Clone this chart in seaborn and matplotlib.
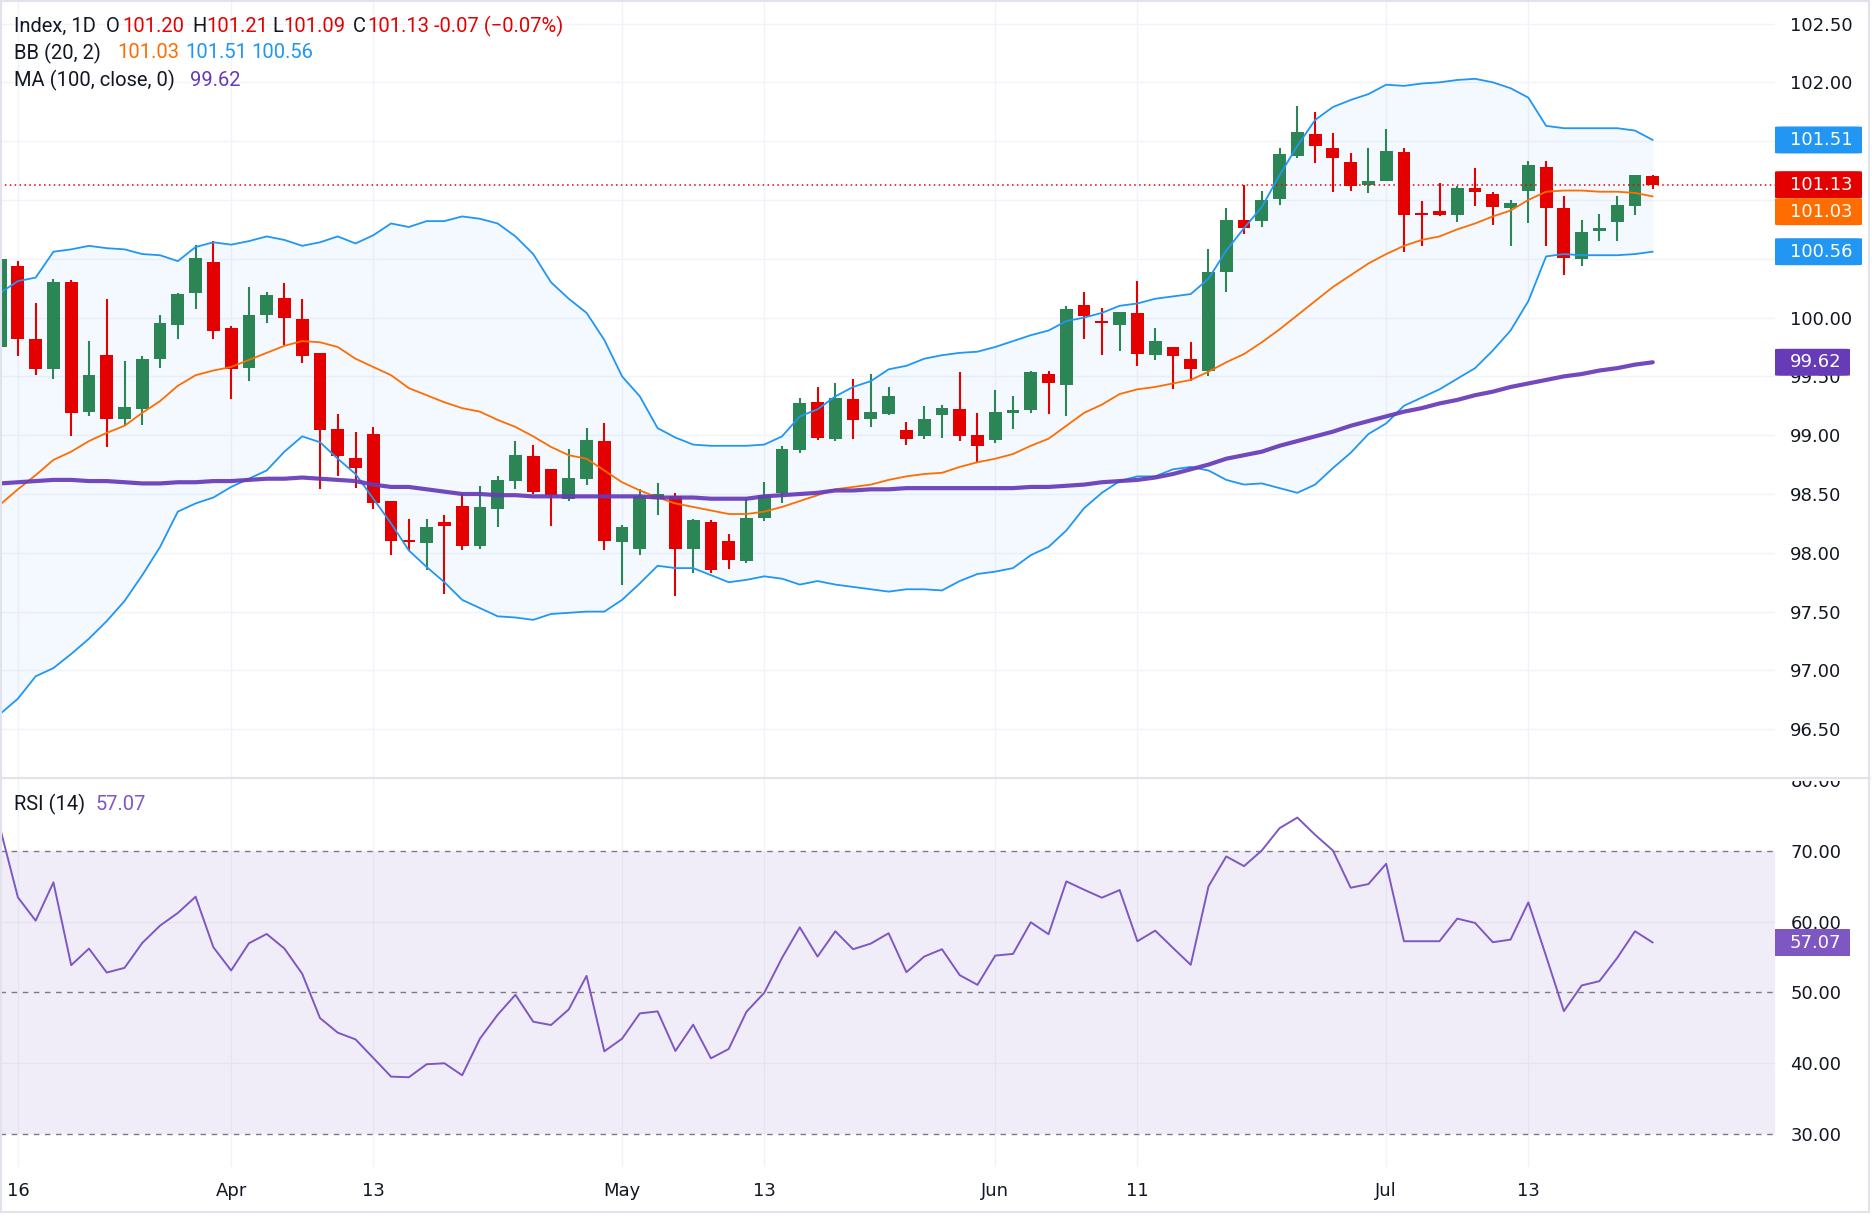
import numpy as np
import pandas as pd
import matplotlib
matplotlib.use("Agg")
import matplotlib.pyplot as plt
import matplotlib.transforms as mtransforms
from matplotlib.patches import Rectangle, FancyBboxPatch
from matplotlib.lines import Line2D
import seaborn as sns

# ---------------- data ----------------
dates = pd.bdate_range("2026-03-13", "2026-07-22")

opens = [99.75, 100.44, 99.82, 99.56, 100.30, 99.20, 99.68, 99.14, 99.22, 99.65,
         99.94, 100.21, 100.47, 99.91, 99.57, 100.02, 100.17, 99.99, 99.70, 99.05,
         98.81, 99.01, 98.44, 98.10, 98.08, 98.26, 98.40, 98.06, 98.37, 98.61,
         98.82, 98.71, 98.46, 98.63, 98.95, 98.09, 98.03, 98.46, 98.48, 98.03,
         98.26, 98.10, 97.93, 98.30, 98.51, 98.87, 99.28, 98.97, 99.31, 99.14,
         99.18, 99.04, 98.99, 99.17, 99.22, 99.00, 98.96, 99.19, 99.21, 99.52,
         99.43, 100.11, 99.97, 99.94, 100.04, 99.68, 99.75, 99.65, 99.55, 100.39,
         100.83, 100.82, 101.01, 101.37, 101.56, 101.44, 101.32, 101.13, 101.16, 101.41,
         100.88, 100.91, 100.87, 101.10, 101.05, 100.93, 101.08, 101.28, 100.93, 100.50,
         100.74, 100.81, 100.95, 101.20]
highs = [100.55, 100.48, 100.12, 100.33, 100.32, 99.80, 100.16, 99.63, 99.67, 100.02,
         100.21, 100.62, 100.65, 99.93, 100.26, 100.22, 100.29, 100.16, 99.70, 99.18,
         99.03, 99.07, 98.44, 98.29, 98.29, 98.32, 98.51, 98.57, 98.65, 98.95,
         98.92, 98.71, 98.88, 99.06, 99.10, 98.24, 98.54, 98.59, 98.51, 98.29,
         98.28, 98.16, 98.46, 98.60, 98.91, 99.32, 99.41, 99.44, 99.48, 99.52,
         99.41, 99.11, 99.25, 99.26, 99.54, 99.19, 99.38, 99.33, 99.55, 99.55,
         100.10, 100.22, 100.08, 100.05, 100.31, 99.91, 99.75, 99.79, 100.58, 100.93,
         101.13, 101.08, 101.44, 101.80, 101.75, 101.57, 101.40, 101.44, 101.60, 101.44,
         100.99, 101.14, 101.12, 101.27, 101.07, 101.00, 101.33, 101.33, 101.03, 100.83,
         100.88, 101.03, 101.21, 101.21]
lows = [99.60, 99.67, 99.51, 99.48, 98.99, 99.16, 98.90, 99.08, 99.09, 99.57,
        99.82, 100.07, 99.82, 99.31, 99.46, 99.95, 99.77, 99.61, 98.54, 98.65,
        98.55, 98.37, 97.98, 98.02, 97.85, 97.65, 98.02, 98.03, 98.22, 98.54,
        98.50, 98.23, 98.44, 98.58, 98.02, 97.73, 97.98, 98.32, 97.63, 97.83,
        97.83, 97.86, 97.91, 98.27, 98.42, 98.85, 98.96, 98.95, 98.97, 99.07,
        99.17, 98.92, 98.97, 98.98, 98.95, 98.76, 98.93, 99.05, 99.19, 99.18,
        99.16, 99.82, 99.68, 99.72, 99.59, 99.64, 99.39, 99.46, 99.50, 100.22,
        100.71, 100.77, 100.96, 101.36, 101.31, 101.07, 101.08, 101.06, 101.16, 100.56,
        100.61, 100.86, 100.81, 100.95, 100.79, 100.61, 100.80, 100.61, 100.36, 100.44,
        100.65, 100.65, 100.87, 101.09]
closes = [100.50, 99.82, 99.56, 100.30, 99.19, 99.51, 99.14, 99.24, 99.65, 99.95,
          100.20, 100.51, 99.89, 99.56, 100.02, 100.19, 100.00, 99.67, 99.04, 98.82,
          98.72, 98.42, 98.10, 98.09, 98.22, 98.23, 98.06, 98.39, 98.62, 98.83,
          98.52, 98.49, 98.64, 98.96, 98.10, 98.22, 98.48, 98.50, 98.03, 98.28,
          97.85, 97.94, 98.30, 98.49, 98.88, 99.27, 98.98, 99.32, 99.13, 99.20,
          99.33, 98.97, 99.14, 99.23, 98.99, 98.91, 99.20, 99.21, 99.54, 99.44,
          100.07, 100.01, 99.95, 100.05, 99.69, 99.80, 99.67, 99.56, 100.39, 100.83,
          100.76, 101.00, 101.39, 101.58, 101.46, 101.36, 101.12, 101.16, 101.42, 100.87,
          100.87, 100.87, 101.10, 101.07, 100.94, 100.97, 101.30, 100.93, 100.51, 100.73,
          100.76, 100.96, 101.21, 101.13]

bb_upper = [100.21, 100.31, 100.34, 100.56, 100.58, 100.61, 100.59, 100.58, 100.54, 100.53,
            100.48, 100.60, 100.64, 100.62, 100.65, 100.69, 100.66, 100.61, 100.64, 100.69,
            100.63, 100.70, 100.80, 100.77, 100.82, 100.82, 100.86, 100.84, 100.80, 100.69,
            100.54, 100.30, 100.16, 100.04, 99.81, 99.50, 99.33, 99.06, 98.98, 98.92,
            98.91, 98.91, 98.91, 98.92, 98.99, 99.16, 99.22, 99.33, 99.41, 99.46,
            99.56, 99.59, 99.65, 99.68, 99.70, 99.71, 99.75, 99.80, 99.85, 99.89,
            99.97, 100.00, 100.04, 100.10, 100.12, 100.16, 100.18, 100.20, 100.33, 100.57,
            100.76, 100.94, 101.21, 101.46, 101.68, 101.79, 101.85, 101.90, 101.98, 101.97,
            101.99, 102.00, 102.02, 102.03, 102.00, 101.95, 101.87, 101.63, 101.61, 101.61,
            101.61, 101.61, 101.59, 101.51]
bb_mid = [98.41, 98.54, 98.66, 98.79, 98.86, 98.95, 99.02, 99.08, 99.19, 99.29,
          99.42, 99.51, 99.55, 99.58, 99.64, 99.70, 99.76, 99.80, 99.79, 99.75,
          99.65, 99.58, 99.51, 99.40, 99.34, 99.28, 99.23, 99.20, 99.13, 99.07,
          98.99, 98.90, 98.83, 98.80, 98.70, 98.60, 98.53, 98.47, 98.42, 98.39,
          98.36, 98.33, 98.33, 98.35, 98.39, 98.44, 98.49, 98.54, 98.56, 98.58,
          98.62, 98.65, 98.67, 98.68, 98.73, 98.77, 98.80, 98.84, 98.91, 98.97,
          99.08, 99.19, 99.26, 99.35, 99.39, 99.41, 99.44, 99.47, 99.54, 99.62,
          99.69, 99.79, 99.90, 100.02, 100.14, 100.26, 100.36, 100.46, 100.54, 100.61,
          100.66, 100.69, 100.75, 100.80, 100.86, 100.91, 101.00, 101.07, 101.08, 101.08,
          101.07, 101.07, 101.06, 101.03]
bb_lower = [96.63, 96.76, 96.95, 97.02, 97.14, 97.27, 97.42, 97.59, 97.81, 98.05,
            98.35, 98.42, 98.47, 98.56, 98.63, 98.70, 98.86, 98.99, 98.94, 98.80,
            98.67, 98.46, 98.25, 98.02, 97.88, 97.75, 97.60, 97.53, 97.46, 97.45,
            97.43, 97.48, 97.49, 97.50, 97.50, 97.60, 97.74, 97.89, 97.87, 97.87,
            97.81, 97.75, 97.77, 97.80, 97.78, 97.73, 97.76, 97.73, 97.71, 97.69,
            97.67, 97.69, 97.69, 97.68, 97.76, 97.82, 97.84, 97.87, 97.98, 98.05,
            98.19, 98.38, 98.51, 98.61, 98.65, 98.65, 98.71, 98.73, 98.70, 98.62,
            98.58, 98.59, 98.55, 98.51, 98.58, 98.72, 98.85, 99.01, 99.10, 99.25,
            99.32, 99.39, 99.48, 99.57, 99.72, 99.89, 100.14, 100.52, 100.54, 100.53,
            100.53, 100.53, 100.54, 100.56]
ma100 = [98.59, 98.60, 98.61, 98.62, 98.62, 98.61, 98.61, 98.60, 98.59, 98.59,
         98.60, 98.60, 98.61, 98.61, 98.62, 98.63, 98.63, 98.64, 98.63, 98.62,
         98.61, 98.58, 98.56, 98.56, 98.54, 98.52, 98.50, 98.50, 98.49, 98.49,
         98.48, 98.48, 98.48, 98.48, 98.48, 98.48, 98.48, 98.47, 98.47, 98.47,
         98.46, 98.46, 98.46, 98.48, 98.49, 98.50, 98.51, 98.53, 98.53, 98.54,
         98.54, 98.55, 98.55, 98.55, 98.55, 98.55, 98.55, 98.55, 98.56, 98.56,
         98.57, 98.58, 98.60, 98.61, 98.62, 98.64, 98.67, 98.71, 98.75, 98.80,
         98.83, 98.86, 98.91, 98.95, 98.99, 99.03, 99.08, 99.12, 99.16, 99.20,
         99.23, 99.27, 99.30, 99.34, 99.37, 99.41, 99.44, 99.47, 99.50, 99.52,
         99.55, 99.57, 99.60, 99.62]
rsi = [73.25, 63.46, 60.16, 65.58, 53.86, 56.21, 52.82, 53.48, 57.01, 59.46,
       61.25, 63.55, 56.40, 53.11, 56.96, 58.28, 56.21, 52.64, 46.38, 44.31,
       43.36, 40.73, 38.09, 38.00, 39.84, 39.98, 38.28, 43.46, 46.85, 49.67,
       45.86, 45.39, 47.60, 52.35, 41.67, 43.46, 47.04, 47.32, 41.72, 45.44,
       40.68, 42.00, 47.27, 49.95, 54.89, 59.22, 55.08, 58.66, 56.12, 56.92,
       58.38, 52.87, 55.08, 56.12, 52.45, 51.08, 55.22, 55.46, 59.93, 58.24,
       65.72, 64.54, 63.41, 64.49, 57.25, 58.75, 56.31, 53.91, 65.01, 69.25,
       67.88, 70.09, 73.25, 74.75, 72.31, 70.09, 64.82, 65.34, 68.21, 57.25,
       57.25, 57.25, 60.45, 59.84, 57.11, 57.48, 62.75, 55.13, 47.36, 50.99,
       51.60, 54.89, 58.66, 57.07]

price_ticks = [96.5, 97.0, 97.5, 98.0, 98.5, 99.0, 99.5, 100.0, 100.5, 101.0, 101.5, 102.0, 102.5]
rsi_ticks = [30, 40, 50, 60, 70, 80]
tick_dates = ["2026-03-16", "2026-04-01", "2026-04-13", "2026-05-01", "2026-05-13",
              "2026-06-01", "2026-06-11", "2026-07-01", "2026-07-13"]
tick_labels = ["16", "Apr", "13", "May", "13", "Jun", "11", "Jul", "13"]

# ---------------- style ----------------
GREEN = "#2c8555"
RED = "#e50000"
BLUE = "#2196f3"
ORANGE = "#ff6d00"
PURPLE = "#673ab7"
RSI_C = "#7e57c2"
GRID = "#f0f3fa"
TXT = "#131722"

sns.set_theme(style="white")
plt.rcParams["font.family"] = ["DejaVu Sans"]

W, H = 1872, 1223
fig = plt.figure(figsize=(W / 100, H / 100), dpi=100, facecolor="white")


def fy(py):
    return 1 - py / H


PLOT_R = 1775
ax = fig.add_axes([0, fy(777), PLOT_R / W, 777 / H])
ax2 = fig.add_axes([0, fy(1167), PLOT_R / W, (1167 - 778) / H])

df = pd.DataFrame({"date": dates, "open": opens, "high": highs, "low": lows, "close": closes,
                   "upper": bb_upper, "mid": bb_mid, "lower": bb_lower, "ma": ma100, "rsi": rsi})
df["pos"] = np.arange(len(df))
tick_pos = [dates.get_loc(pd.Timestamp(d)) for d in tick_dates]

XL = (-0.007, 99.88)
for a in (ax, ax2):
    a.set_facecolor("white")
    for s in a.spines.values():
        s.set_visible(False)
    a.set_xlim(*XL)

# values whose right-axis labels sit under a value badge are left blank
last_vals = [bb_upper[-1], closes[-1], bb_mid[-1], bb_lower[-1]]


def covered(v):
    return any(abs(v - b) < 0.11 for b in last_vals)


# ---------- price pane ----------
ax.set_ylim(96.094, 102.70)
ax.set_yticks(price_ticks)
ax.set_yticklabels(["" if covered(v) else f"{v:.2f}" for v in price_ticks])
ax.set_xticks(tick_pos)
ax.set_xticklabels([])
ax.grid(True, color=GRID, linewidth=1)
ax.set_axisbelow(True)
ax.yaxis.tick_right()
ax.tick_params(axis="y", length=0, pad=11, labelsize=13, labelcolor=TXT)
ax.tick_params(axis="x", length=0)

ax.fill_between(df["pos"], df["lower"], df["upper"], color=BLUE, alpha=0.05, linewidth=0, zorder=1)

up = df["close"] >= df["open"]
colors = np.where(up, GREEN, RED)
body_bot = np.minimum(df["open"], df["close"])
body_h = np.maximum((df["close"] - df["open"]).abs(), 0.018)
ax.vlines(df["pos"], df["low"], df["high"], colors=colors, linewidth=1.5, zorder=3)
ax.bar(df["pos"], body_h, bottom=body_bot, width=0.72, color=colors, linewidth=0, zorder=3.5)

sns.lineplot(data=df, x="pos", y="upper", ax=ax, color=BLUE, linewidth=1.3, zorder=5)
sns.lineplot(data=df, x="pos", y="lower", ax=ax, color=BLUE, linewidth=1.3, zorder=5)
sns.lineplot(data=df, x="pos", y="mid", ax=ax, color=ORANGE, linewidth=1.3, zorder=5)
sns.lineplot(data=df, x="pos", y="ma", ax=ax, color=PURPLE, linewidth=3.0, alpha=0.92, zorder=6)
ax.set_xlabel("")
ax.set_ylabel("")
ax.set_xlim(*XL)

ax.axhline(closes[-1], color=RED, linewidth=1.1, linestyle=(0, (1, 2.2)), zorder=4)

# ---------- RSI pane ----------
ax2.set_ylim(25.3, 80.35)
ax2.set_yticks(rsi_ticks)
ax2.set_yticklabels([f"{v:.2f}" for v in rsi_ticks])
ax2.yaxis.tick_right()
ax2.tick_params(axis="y", length=0, pad=11, labelsize=13, labelcolor=TXT)
ax2.set_xticks(tick_pos)
ax2.set_xticklabels(tick_labels)
ax2.tick_params(axis="x", length=0, pad=11, labelsize=13, labelcolor=TXT)
for p in tick_pos:
    ax2.axvline(p, color=GRID, linewidth=1, zorder=0.5)
for v in (40, 60):
    ax2.axhline(v, color="#e6e2f0", linewidth=1, zorder=1.2)
ax2.axhspan(30, 70, color=RSI_C, alpha=0.1, linewidth=0, zorder=1)
for v in (30, 50, 70):
    ax2.axhline(v, color="#787b86", linewidth=1, linestyle=(0, (4, 4)), zorder=2)
sns.lineplot(data=df, x="pos", y="rsi", ax=ax2, color=RSI_C, linewidth=1.4, zorder=5)
ax2.set_xlabel("")
ax2.set_ylabel("")
ax2.set_xlim(*XL)


# ---------- value badges on the right axis ----------
def badge(a, yval, text, color, width_px, ppu):
    tr = mtransforms.blended_transform_factory(a.transAxes, a.transData)
    hh = 13.5 / ppu
    wf = width_px / PLOT_R
    box = FancyBboxPatch((1.0, yval - hh), wf, 2 * hh, boxstyle="round,pad=0,rounding_size=0.004",
                         transform=tr, facecolor=color, edgecolor="none", clip_on=False, zorder=20)
    a.add_patch(box)
    a.text(1790 / PLOT_R, yval, text, transform=tr, color="white", fontsize=13,
           ha="left", va="center", clip_on=False, zorder=21)


ppu_price = 777 / (102.70 - 96.094)
ppu_rsi = 389 / (80.35 - 25.3)
badge_vals = [(bb_upper[-1], BLUE), (closes[-1], RED), (bb_mid[-1], ORANGE), (bb_lower[-1], BLUE)]
badge_h = 27 / ppu_price
prev = None
for v, col in badge_vals:
    y = v
    if prev is not None and prev - y < badge_h:
        y = prev - badge_h
    badge(ax, y, f"{v:.2f}", col, 87, ppu_price)
    prev = y
badge(ax, ma100[-1], f"{ma100[-1]:.2f}", PURPLE, 75, ppu_price)
badge(ax2, rsi[-1], f"{rsi[-1]:.2f}", RSI_C, 75, ppu_rsi)

# hide the top part of the clipped "80.00" label, then separators / frame
fig.add_artist(Rectangle((1776 / W, fy(780.5)), 94 / W, 22 / H, transform=fig.transFigure,
                         facecolor="white", edgecolor="none", zorder=30))
fig.add_artist(Line2D([0, 1870 / W], [fy(778), fy(778)], transform=fig.transFigure,
                      color="#e0e3eb", linewidth=1.5, zorder=31))
fig.add_artist(Rectangle((1 / W, fy(1212)), 1868 / W, 1211 / H, transform=fig.transFigure,
                         facecolor="none", edgecolor="#e0e3eb", linewidth=1.5, zorder=31))

# ---------- legend header text ----------
HF = ["Roboto", "DejaVu Sans"]


def t(x, y, s, color=TXT, size=14.5):
    fig.text(x / W, fy(y), s, color=color, fontsize=size, family=HF, ha="left", va="center", zorder=40)


t(14, 26, "Index, 1D")
t(106, 26, "O"); t(122, 26, f"{opens[-1]:.2f}", RED)
t(192, 26, "H"); t(206, 26, f"{highs[-1]:.2f}", RED)
t(272, 26, "L"); t(283, 26, f"{lows[-1]:.2f}", RED)
t(353, 26, "C"); t(367, 26, f"{closes[-1]:.2f}", RED)
t(434, 26, "-0.07 (\u22120.07%)", RED)
t(14, 53, "BB (20, 2)")
t(117, 53, f"{bb_mid[-1]:.2f}", ORANGE)
t(185, 53, f"{bb_upper[-1]:.2f}", BLUE)
t(251, 53, f"{bb_lower[-1]:.2f}", BLUE)
t(14, 80, "MA (100, close, 0)")
t(190, 80, f"{ma100[-1]:.2f}", PURPLE)
t(14, 804, "RSI (14)")
t(96, 804, f"{rsi[-1]:.2f}", RSI_C)

fig.savefig("out.png", dpi=100, facecolor="white")
